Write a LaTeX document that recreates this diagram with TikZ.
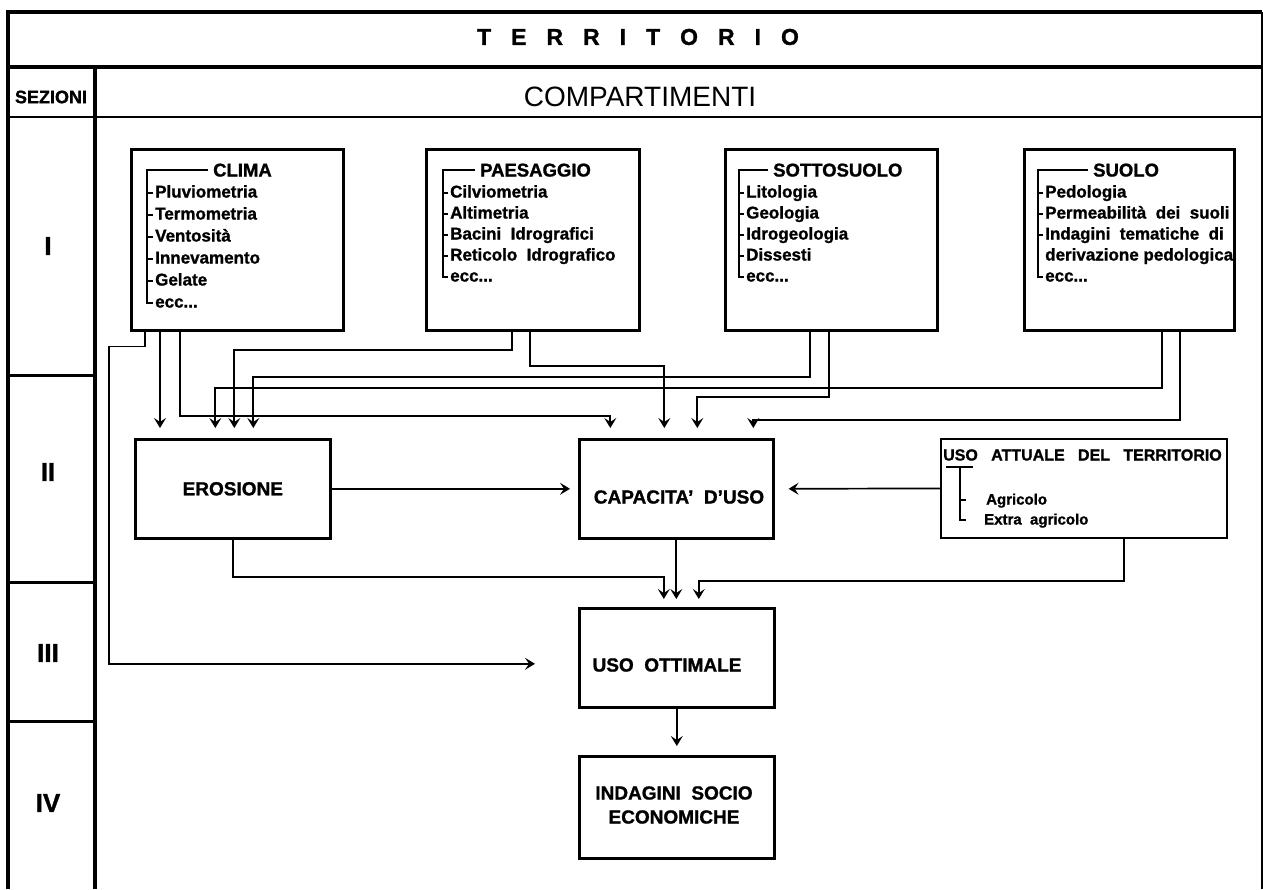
\documentclass[tikz,border=0pt]{standalone}
\usepackage{fontspec}
\setmainfont{Liberation Sans}[BoldFeatures={FakeBold=1.2}]
\usetikzlibrary{arrows.meta}

\newcommand\tgap{\kern20pt}

\tikzset{
  box/.style={draw, line width=2.6pt, anchor=north west, inner sep=0pt},
  thinbox/.style={draw, line width=1.8pt, anchor=north west, inner sep=0pt},
  headtext/.style={anchor=west, inner sep=0pt, text height=13pt, text depth=0pt, font=\bfseries\fontsize{18.5}{20}\selectfont},
  entry/.style={anchor=west, inner sep=0pt, text height=12.5pt, text depth=3.5pt, font=\bfseries\fontsize{17}{19}\selectfont},
  boxtext/.style={align=center, inner sep=0pt, font=\bfseries\fontsize{19}{24}\selectfont},
  brk/.style={line width=1.8pt},
  conn/.style={line width=1.7pt},
  arr/.style={conn, -{Stealth[length=10pt,width=12pt,inset=4pt]}},
}

\begin{document}
\begin{tikzpicture}[x=1pt, y=-1pt]
    \useasboundingbox (0,0) rectangle (1263,889);

    % Frame and header rows
    \draw[line width=3.5pt] (8,889) -- (8,12) -- (1262,12);
    \draw[line width=2.2pt] (1262,12) -- (1262,889);
    \draw[line width=4pt] (8,67) -- (1262,67);
    \draw[line width=1.2pt] (8,117) -- (1262,117);
    \draw[line width=4.5pt] (95,67) -- (95,889);
    \foreach \y in {375,582,721}
        \draw[line width=3pt] (8,\y) -- (95,\y);

    % Headings
    \node[font=\bfseries\fontsize{23}{25}\selectfont] (territorio) at (638,37)
        {T\tgap E\tgap R\tgap R\tgap I\tgap T\tgap O\tgap R\tgap I\tgap O};
    \node[font=\bfseries\fontsize{18}{20}\selectfont] (sezioni) at (51,97) {SEZIONI};
    \node[font=\fontsize{28}{30}\selectfont] (compartimenti) at (640,97) {COMPARTIMENTI};

    % Section numbers
    \foreach \s/\y in {I/246, II/472, III/653, IV/803}
        \node[font=\bfseries\fontsize{26}{28}\selectfont] (sez-\s) at (48,\y) {\s};

    % Row I: compartments
    \node[box, minimum width=212pt, minimum height=181pt] (clima) at (130,148) {};
    \node[box, minimum width=213pt, minimum height=181pt] (paesaggio) at (425,148) {};
    \node[box, minimum width=212pt, minimum height=181pt] (sottosuolo) at (724,148) {};
    \node[box, minimum width=210pt, minimum height=181pt] (suolo) at (1023,148) {};

    % CLIMA
    \node[headtext] (clima-t) at (213,170) {CLIMA};
    \foreach \t [count=\i] in {Pluviometria, Termometria, Ventosità, Innevamento, Gelate, ecc{...}}
        \node[entry] (clima-\i) at (155,{171+22*\i}) {\t};
    \draw[brk] ([xshift=-5pt]clima-t.west) -| ([xshift=-8pt]clima-6.west) -- ([xshift=-2pt]clima-6.west);
    \foreach \i in {1,...,5}
        \draw[brk] ([xshift=-8pt]clima-\i.west) -- ([xshift=-2pt]clima-\i.west);

    % PAESAGGIO
    \node[headtext] (paesaggio-t) at (480,170) {PAESAGGIO};
    \foreach \t [count=\i] in {Cilviometria, Altimetria, Bacini~~Idrografici, Reticolo~~Idrografico, ecc{...}}
        \node[entry] (paesaggio-\i) at (450,{172+21*\i}) {\t};
    \draw[brk] ([xshift=-5pt]paesaggio-t.west) -| ([xshift=-7pt]paesaggio-5.west) -- ([xshift=-2pt]paesaggio-5.west);
    \foreach \i in {1,...,4}
        \draw[brk] ([xshift=-7pt]paesaggio-\i.west) -- ([xshift=-2pt]paesaggio-\i.west);

    % SOTTOSUOLO
    \node[headtext] (sottosuolo-t) at (773,170) {SOTTOSUOLO};
    \foreach \t [count=\i] in {Litologia, Geologia, Idrogeologia, Dissesti, ecc{...}}
        \node[entry] (sottosuolo-\i) at (746,{172+21*\i}) {\t};
    \draw[brk] ([xshift=-5pt]sottosuolo-t.west) -| ([xshift=-7pt]sottosuolo-5.west) -- ([xshift=-2pt]sottosuolo-5.west);
    \foreach \i in {1,...,4}
        \draw[brk] ([xshift=-7pt]sottosuolo-\i.west) -- ([xshift=-2pt]sottosuolo-\i.west);

    % SUOLO
    \node[headtext] (suolo-t) at (1093,170) {SUOLO};
    \foreach \t [count=\i] in {Pedologia, Permeabilità~ dei~ suoli, Indagini~ tematiche~ di, derivazione pedologica, ecc{...}}
        \node[entry] (suolo-\i) at (1045,{172+21*\i}) {\t};
    \draw[brk] ([xshift=-5pt]suolo-t.west) -| ([xshift=-7pt]suolo-5.west) -- ([xshift=-2pt]suolo-5.west);
    \foreach \i in {1,2,3}
        \draw[brk] ([xshift=-7pt]suolo-\i.west) -- ([xshift=-2pt]suolo-\i.west);

    % Row II
    \node[box, minimum width=195pt, minimum height=99pt, boxtext] (erosione) at (134,438) {EROSIONE};
    \node[box, minimum width=194pt, minimum height=99pt] (capacita) at (578,438) {};
    \node[boxtext] (capacita-t) at (679,497) {CAPACITA'~~D'USO};
    \node[thinbox, minimum width=286pt, minimum height=99pt] (attuale) at (940,438) {};
    \node[anchor=west, inner sep=0pt, font=\bfseries\fontsize{16}{18}\selectfont] (attuale-t) at (943,455)
        {USO~~~ATTUALE~~~DEL~~~TERRITORIO};
    \node[entry, font=\bfseries\fontsize{15}{17}\selectfont] (agricolo) at (986,500) {Agricolo};
    \node[entry, font=\bfseries\fontsize{15}{17}\selectfont] (extra) at (984,520) {Extra~~agricolo};
    \draw[brk] (946,467) -- (973,467);
    \draw[brk] (960,467) |- (966,520);
    \draw[brk] (960,500) -- (966,500);

    % Rows III and IV
    \node[box, minimum width=195pt, minimum height=99pt] (ottimale) at (578,607) {};
    \node[boxtext] (ottimale-t) at (667,665) {USO~~OTTIMALE};
    \node[box, minimum width=195pt, minimum height=102pt] (indagini) at (578,755) {};
    \node[boxtext] (indagini-t) at (674,805) {INDAGINI~~SOCIO\\ECONOMICHE};

    % Exits and entries
    \coordinate (clima-x1) at ([xshift=15pt]clima.south west);
    \coordinate (clima-x2) at ([xshift=30pt]clima.south west);
    \coordinate (clima-x3) at ([xshift=50pt]clima.south west);
    \coordinate (paesaggio-x1) at ([xshift=87pt]paesaggio.south west);
    \coordinate (paesaggio-x2) at ([xshift=105pt]paesaggio.south west);
    \coordinate (sottosuolo-x1) at ([xshift=86pt]sottosuolo.south west);
    \coordinate (sottosuolo-x2) at ([xshift=105pt]sottosuolo.south west);
    \coordinate (suolo-x1) at ([xshift=139pt]suolo.south west);
    \coordinate (suolo-x2) at ([xshift=157pt]suolo.south west);
    \coordinate (ero-top) at ([yshift=10pt]erosione.north);
    \coordinate (cap-top) at ([yshift=10pt]capacita.north);
    \coordinate (ott-top) at ([yshift=8pt]ottimale.north);
    \coordinate (clima-bend) at ([xshift=-36pt,yshift=-15pt]clima-x1);

    % Connectors into EROSIONE
    \draw[arr] (clima-x2) -- (clima-x2 |- ero-top);
    \draw[arr] (suolo-x1) |- ([xshift=-17.5pt,yshift=40pt]ero-top) -- ([xshift=-17.5pt]ero-top);
    \draw[arr] (paesaggio-x1) |- ([xshift=1.5pt,yshift=78pt]ero-top) -- ([xshift=1.5pt]ero-top);
    \draw[arr] (sottosuolo-x1) |- ([xshift=20.5pt,yshift=51pt]ero-top) -- ([xshift=20.5pt]ero-top);

    % Connectors into CAPACITA' D'USO
    \draw[arr] (clima-x3) |- ([xshift=-66pt,yshift=12pt]cap-top) -- ([xshift=-66pt]cap-top);
    \draw[arr] (paesaggio-x2) |- ([xshift=-12pt,yshift=62pt]cap-top) -- ([xshift=-12pt]cap-top);
    \draw[arr] (sottosuolo-x2) |- ([xshift=21pt,yshift=31pt]cap-top) -- ([xshift=21pt]cap-top);
    \draw[arr] (suolo-x2) |- ([xshift=77pt,yshift=8pt]cap-top) -- ([xshift=77pt]cap-top);
    \draw[arr] (erosione.east) -- ([xshift=-8pt]capacita.west);
    \draw[arr] (attuale.west) -- ([xshift=14pt]capacita.east);

    % Connectors into USO OTTIMALE
    \draw[arr] (clima-x1) |- (clima-bend) |- ([xshift=-43pt,yshift=-6pt]ottimale.west);
    \draw[arr] (erosione.south) |- ([xshift=-13pt,yshift=22pt]ott-top) -- ([xshift=-13pt]ott-top);
    \draw[arr] (capacita.south) -- (capacita.south |- ott-top);
    \draw[arr] ([xshift=184pt]attuale.south west) |- ([xshift=22pt,yshift=18pt]ott-top) -- ([xshift=22pt]ott-top);
    \draw[arr] (ottimale.south) -- ([yshift=9pt]indagini.north);
\end{tikzpicture}
\end{document}
